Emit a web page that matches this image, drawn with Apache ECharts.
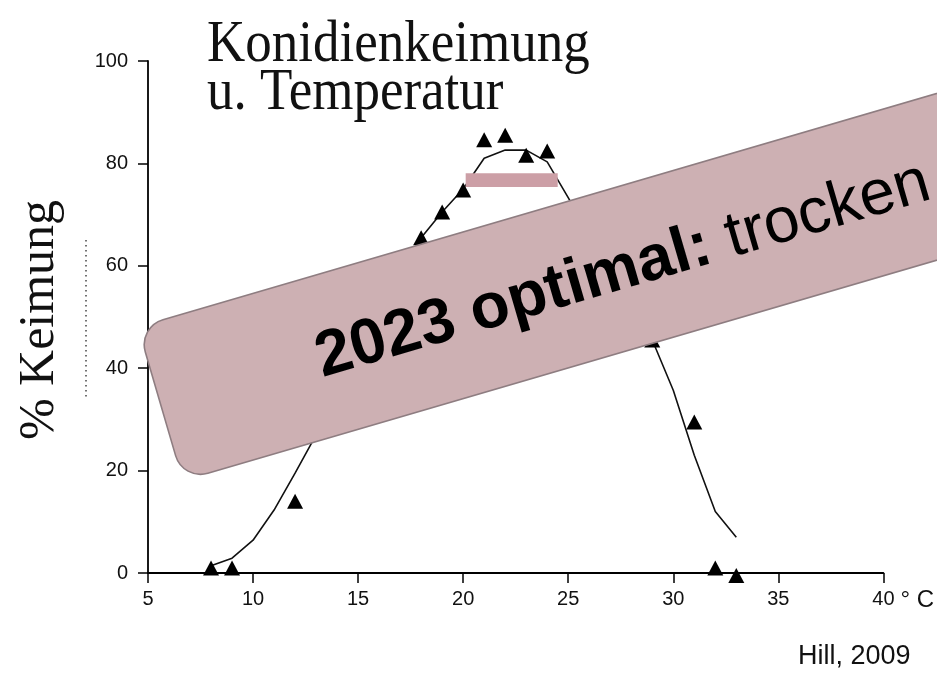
<!DOCTYPE html>
<html>
<head>
<meta charset="utf-8">
<script src="https://cdn.jsdelivr.net/npm/echarts@6/dist/echarts.min.js"></script>
<style>
  html, body { margin: 0; padding: 0; background: #fff; }
  #chart { width: 937px; height: 674px; }
</style>
</head>
<body>
<div id="chart"></div>
<script>
// Measured germination (%) at temperature (°C) — visible triangles
const pointTemps = [8, 9, 12, 18, 19, 20, 21, 22, 23, 24, 29, 31, 32, 33];
const pointGerm  = [1, 1, 14, 65.5, 70.5, 74.8, 84.6, 85.5, 81.6, 82.4, 45.5, 29.5, 1, -0.5];

// Fitted curve (%) at integer temperatures
const curveTemps = [8, 9, 10, 11, 12, 13, 14, 15, 16, 17, 18, 19, 20, 21, 22, 23, 24, 25, 26, 27, 28, 29, 30, 31, 32, 33];
const curveGerm  = [1.4, 2.9, 6.4, 12.3, 19.5, 27, 35, 43, 51, 58.5, 65.5, 70.5, 75, 81, 82.6, 82.6, 80.3, 73.3, 66, 59, 52, 45.5, 35.7, 23, 12, 7];

// Axis ticks
const xTicks = [5, 10, 15, 20, 25, 30, 35, 40];
const yTicks = [0, 20, 40, 60, 80, 100];

// Covered range (small pink bar) in data units
const barTemps = [20.12, 24.5];
const barGerm  = [75.4, 78.1];

const chart = echarts.init(document.getElementById('chart'), null, { renderer: 'canvas' });

const axisCommon = {
  axisLine: { show: true, lineStyle: { color: '#000', width: 1.8 } },
  axisTick: { show: true, inside: false, length: 10, lineStyle: { color: '#000', width: 1.5 } },
  splitLine: { show: false },
  axisLabel: { color: '#111', fontSize: 20, fontFamily: 'Liberation Sans, Arial, sans-serif' }
};

chart.setOption({
  animation: false,
  backgroundColor: '#fff',
  grid: { left: 148, right: 53, top: 61, bottom: 101, containLabel: false },
  xAxis: Object.assign({}, axisCommon, {
    type: 'value',
    min: xTicks[0], max: xTicks[xTicks.length - 1], interval: xTicks[1] - xTicks[0],
    axisLabel: Object.assign({}, axisCommon.axisLabel, { margin: 16 }),
    name: '° C',
    nameLocation: 'end',
    nameGap: 12,
    nameTextStyle: {
      color: '#111', fontSize: 24, fontFamily: 'Liberation Sans, Arial, sans-serif',
      verticalAlign: 'top', align: 'left', padding: [15, 0, 0, 0]
    }
  }),
  yAxis: Object.assign({}, axisCommon, {
    type: 'value',
    min: yTicks[0], max: yTicks[yTicks.length - 1], interval: yTicks[1] - yTicks[0],
    axisLabel: Object.assign({}, axisCommon.axisLabel, { margin: 20 })
  }),
  series: [
    {
      type: 'line',
      data: curveTemps.map((t, i) => [t, curveGerm[i]]),
      showSymbol: false,
      symbol: 'none',
      smooth: false,
      lineStyle: { color: '#111', width: 1.6 },
      z: 2
    },
    {
      type: 'scatter',
      data: pointTemps.map((t, i) => [t, pointGerm[i]]),
      symbol: 'triangle',
      symbolSize: [16, 15],
      itemStyle: { color: '#000', opacity: 1 },
      clip: false,
      z: 3
    }
  ]
});

// Overlays
const pA = chart.convertToPixel({ gridIndex: 0 }, [barTemps[0], barGerm[1]]);
const pB = chart.convertToPixel({ gridIndex: 0 }, [barTemps[1], barGerm[0]]);
const angle = 16.3 * Math.PI / 180;

chart.setOption({
  graphic: [
    {
      type: 'text', z: 50, x: 207, y: 46, scaleY: 1.1,
      style: { text: 'Konidienkeimung', fontSize: 53, fontFamily: 'Liberation Serif, Times New Roman, serif', fill: '#111', align: 'left', verticalAlign: 'middle' }
    },
    {
      type: 'text', z: 50, x: 207, y: 94, scaleY: 1.1,
      style: { text: 'u. Temperatur', fontSize: 53, fontFamily: 'Liberation Serif, Times New Roman, serif', fill: '#111', align: 'left', verticalAlign: 'middle' }
    },
    {
      type: 'text', z: 50, x: 40, y: 320, rotation: Math.PI / 2,
      style: { text: '% Keimung', fontSize: 50, fontFamily: 'Liberation Serif, Times New Roman, serif', fill: '#111', align: 'center', verticalAlign: 'middle' }
    },
    {
      type: 'line', z: 50,
      shape: { x1: 86, y1: 240, x2: 86, y2: 400 },
      style: { stroke: '#444', lineWidth: 1.5, lineDash: [1.5, 3.5] }
    },
    {
      type: 'rect', z: 60,
      shape: { x: pA[0], y: pA[1], width: pB[0] - pA[0], height: pB[1] - pA[1] },
      style: { fill: '#cc9fa6' }
    },
    {
      type: 'group', z: 70, x: 138, y: 327, rotation: angle,
      children: [
        {
          type: 'rect', z: 70,
          shape: { x: 0, y: 0, width: 1100, height: 160, r: 26 },
          style: { fill: '#cdb0b3', stroke: '#8e7d81', lineWidth: 1.6 }
        },
        {
          type: 'text', z: 71,
          style: {
            x: 163, y: 82,
            text: '{b|2023 optimal:} trocken',
            fontSize: 64, fontFamily: 'Liberation Sans, Arial, sans-serif', fill: '#000',
            align: 'left', verticalAlign: 'middle',
            rich: { b: { fontSize: 64, fontWeight: 'bold', fontFamily: 'Liberation Sans, Arial, sans-serif', fill: '#000' } }
          }
        }
      ]
    },
    {
      type: 'text', z: 50, x: 798, y: 657,
      style: { text: 'Hill, 2009', fontSize: 27, fontFamily: 'Liberation Sans, Arial, sans-serif', fill: '#111', align: 'left', verticalAlign: 'middle' }
    }
  ]
});
</script>
</body>
</html>
